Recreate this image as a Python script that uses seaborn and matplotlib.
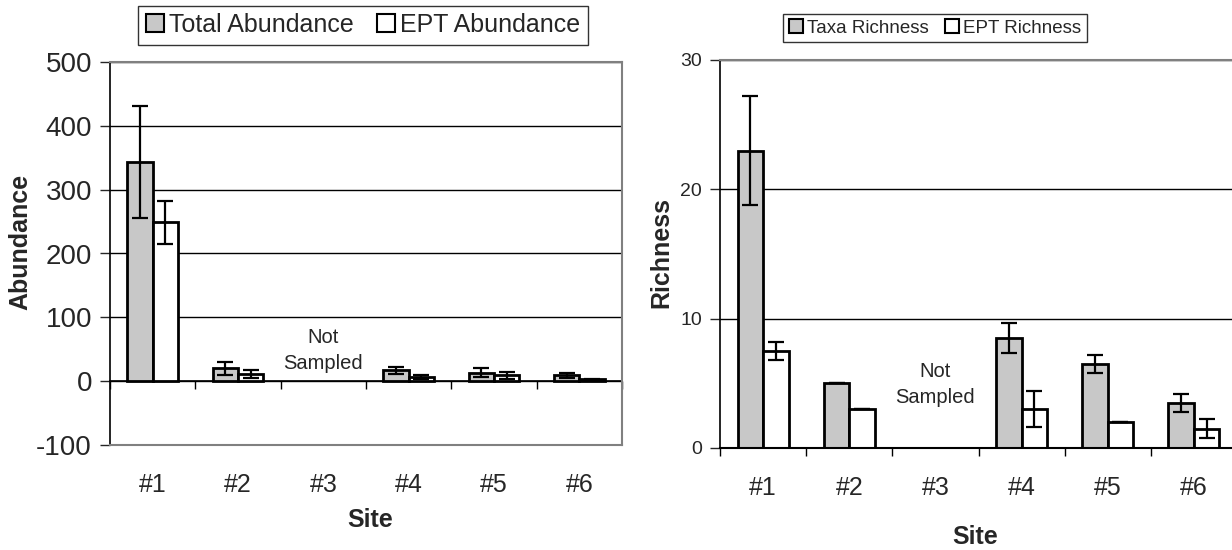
import pandas as pd
import numpy as np
import matplotlib
matplotlib.use("Agg")
import matplotlib.pyplot as plt
import seaborn as sns

# datos
sitios = ["#1", "#2", "#3", "#4", "#5", "#6"]

total_abund = [343, 20, np.nan, 17, 13, 9]
total_abund_err = [88, 10, np.nan, 5, 7, 4]
ept_abund = [249, 11, np.nan, 6, 9, 3]
ept_abund_err = [34, 6, np.nan, 3, 5, 1]

taxa_rich = [23.0, 5.0, np.nan, 8.5, 6.5, 3.5]
taxa_rich_err = [4.2, 0.0, np.nan, 1.15, 0.7, 0.7]
ept_rich = [7.5, 3.0, np.nan, 3.0, 2.0, 1.5]
ept_rich_err = [0.7, 0.0, np.nan, 1.4, 0.0, 0.75]

sns.set_style("white")
plt.rcParams["font.family"] = ["Liberation Sans", "DejaVu Sans"]
plt.rcParams["axes.unicode_minus"] = False
#             ^ guion simple en -100 como en el original

gris = "#c8c8c8"
borde = "#808080"


def tabla(serie_a, err_a, nombre_a, serie_b, err_b, nombre_b):
    filas = []
    for s, v, e in zip(sitios, serie_a, err_a):
        filas.append({"Site": s, "Medida": nombre_a, "Valor": v, "Err": e})
    for s, v, e in zip(sitios, serie_b, err_b):
        filas.append({"Site": s, "Medida": nombre_b, "Valor": v, "Err": e})
    return pd.DataFrame(filas)


def panel(ax, df, nombres, ymin, ymax, paso, fs_y, fs_leg, leg_pos, ns_y):
    sns.barplot(
        data=df, x="Site", y="Valor", hue="Medida",
        order=sitios, hue_order=nombres,
        palette={nombres[0]: gris, nombres[1]: "white"},
        edgecolor="black", linewidth=2, width=0.59, gap=0,
        errorbar=None, legend=False, ax=ax,
    )
    barras = list(ax.containers)
    # barras de error en el centro de cada barra
    for cont, nombre in zip(barras, nombres):
        sub = df[df["Medida"] == nombre].set_index("Site")
        for bar in cont:
            xc = bar.get_x() + bar.get_width() / 2
            idx = int(round(xc))
            err = sub.loc[sitios[idx], "Err"]
            h = bar.get_height()
            if np.isnan(h) or np.isnan(err):
                continue
            ax.errorbar(xc, h, yerr=err, color="black", lw=1.6,
                        capsize=5.5, capthick=1.6, zorder=5)

    ax.set_ylim(ymin, ymax)
    ax.set_yticks(np.arange(ymin, ymax + paso / 2, paso))
    ax.set_xlim(-0.5, 5.5)
    ax.yaxis.grid(True, color="black", lw=1)
    ax.set_axisbelow(True)
    for lado in ["top", "right", "bottom"]:
        ax.spines[lado].set_color(borde)
        ax.spines[lado].set_linewidth(1.5)
    ax.spines["left"].set_color("black")
    ax.spines["left"].set_linewidth(1.2)
    ax.tick_params(axis="y", left=True, direction="out", length=7, width=1,
                   labelsize=fs_y, pad=6)
    ax.tick_params(axis="x", bottom=True, length=0, labelsize=18, pad=20)

    # texto de sitio no muestreado
    ax.text(2, ns_y, "Not\nSampled", ha="center", va="center",
            fontsize=14.5, linespacing=1.45)

    # marcas en los limites de categoria sobre la linea cero
    loc = (0 - ymin) / (ymax - ymin)
    sec = ax.secondary_xaxis(loc)
    sec.set_xticks(np.arange(-0.5, 5.6, 1.0))
    sec.set_xticklabels([])
    sec.tick_params(direction="out", length=6, width=1, color="black")
    sec.spines["bottom"].set_color("black")
    sec.spines["bottom"].set_linewidth(1.2)

    leg = ax.legend(
        [c.patches[0] for c in barras], nombres,
        loc="center", bbox_to_anchor=leg_pos, bbox_transform=ax.figure.transFigure,
        ncol=2, fontsize=fs_leg, frameon=True, fancybox=False,
        edgecolor="black", handlelength=0.75, handleheight=0.75,
        handletextpad=0.2, columnspacing=0.9, borderpad=0.3,
        borderaxespad=0,
    )
    leg.get_frame().set_linewidth(1)
    for h in leg.legend_handles:
        h.set_linewidth(1.5)


fig = plt.figure(figsize=(12.32, 5.5), dpi=100)
ax1 = fig.add_axes([110 / 1232, 1 - 445 / 550, 512 / 1232, 383 / 550])
ax2 = fig.add_axes([720 / 1232, 1 - 448 / 550, 517 / 1232, 388 / 550])

df_abund = tabla(total_abund, total_abund_err, "Total Abundance",
                 ept_abund, ept_abund_err, "EPT Abundance")
df_rich = tabla(taxa_rich, taxa_rich_err, "Taxa Richness",
                ept_rich, ept_rich_err, "EPT Richness")

panel(ax1, df_abund, ["Total Abundance", "EPT Abundance"], -100, 500, 100,
      20, 18, (363 / 1232, 1 - 25 / 550), 48)
panel(ax2, df_rich, ["Taxa Richness", "EPT Richness"], 0, 30, 10,
      14, 13.5, (935 / 1232, 1 - 28 / 550), 4.9)

ax1.set_xlabel("Site", fontsize=18, fontweight="bold")
ax1.set_ylabel("Abundance", fontsize=18, fontweight="bold")
ax1.xaxis.set_label_coords(0.508, -0.165)
ax1.yaxis.set_label_coords(-0.152, 0.53)

ax2.set_xlabel("Site", fontsize=18, fontweight="bold")
ax2.set_ylabel("Richness", fontsize=18, fontweight="bold")
ax2.xaxis.set_label_coords(0.493, -0.198)
ax2.yaxis.set_label_coords(-0.091, 0.503)
ax2.spines["bottom"].set_color("black")

fig.savefig("out.png", dpi=100)
